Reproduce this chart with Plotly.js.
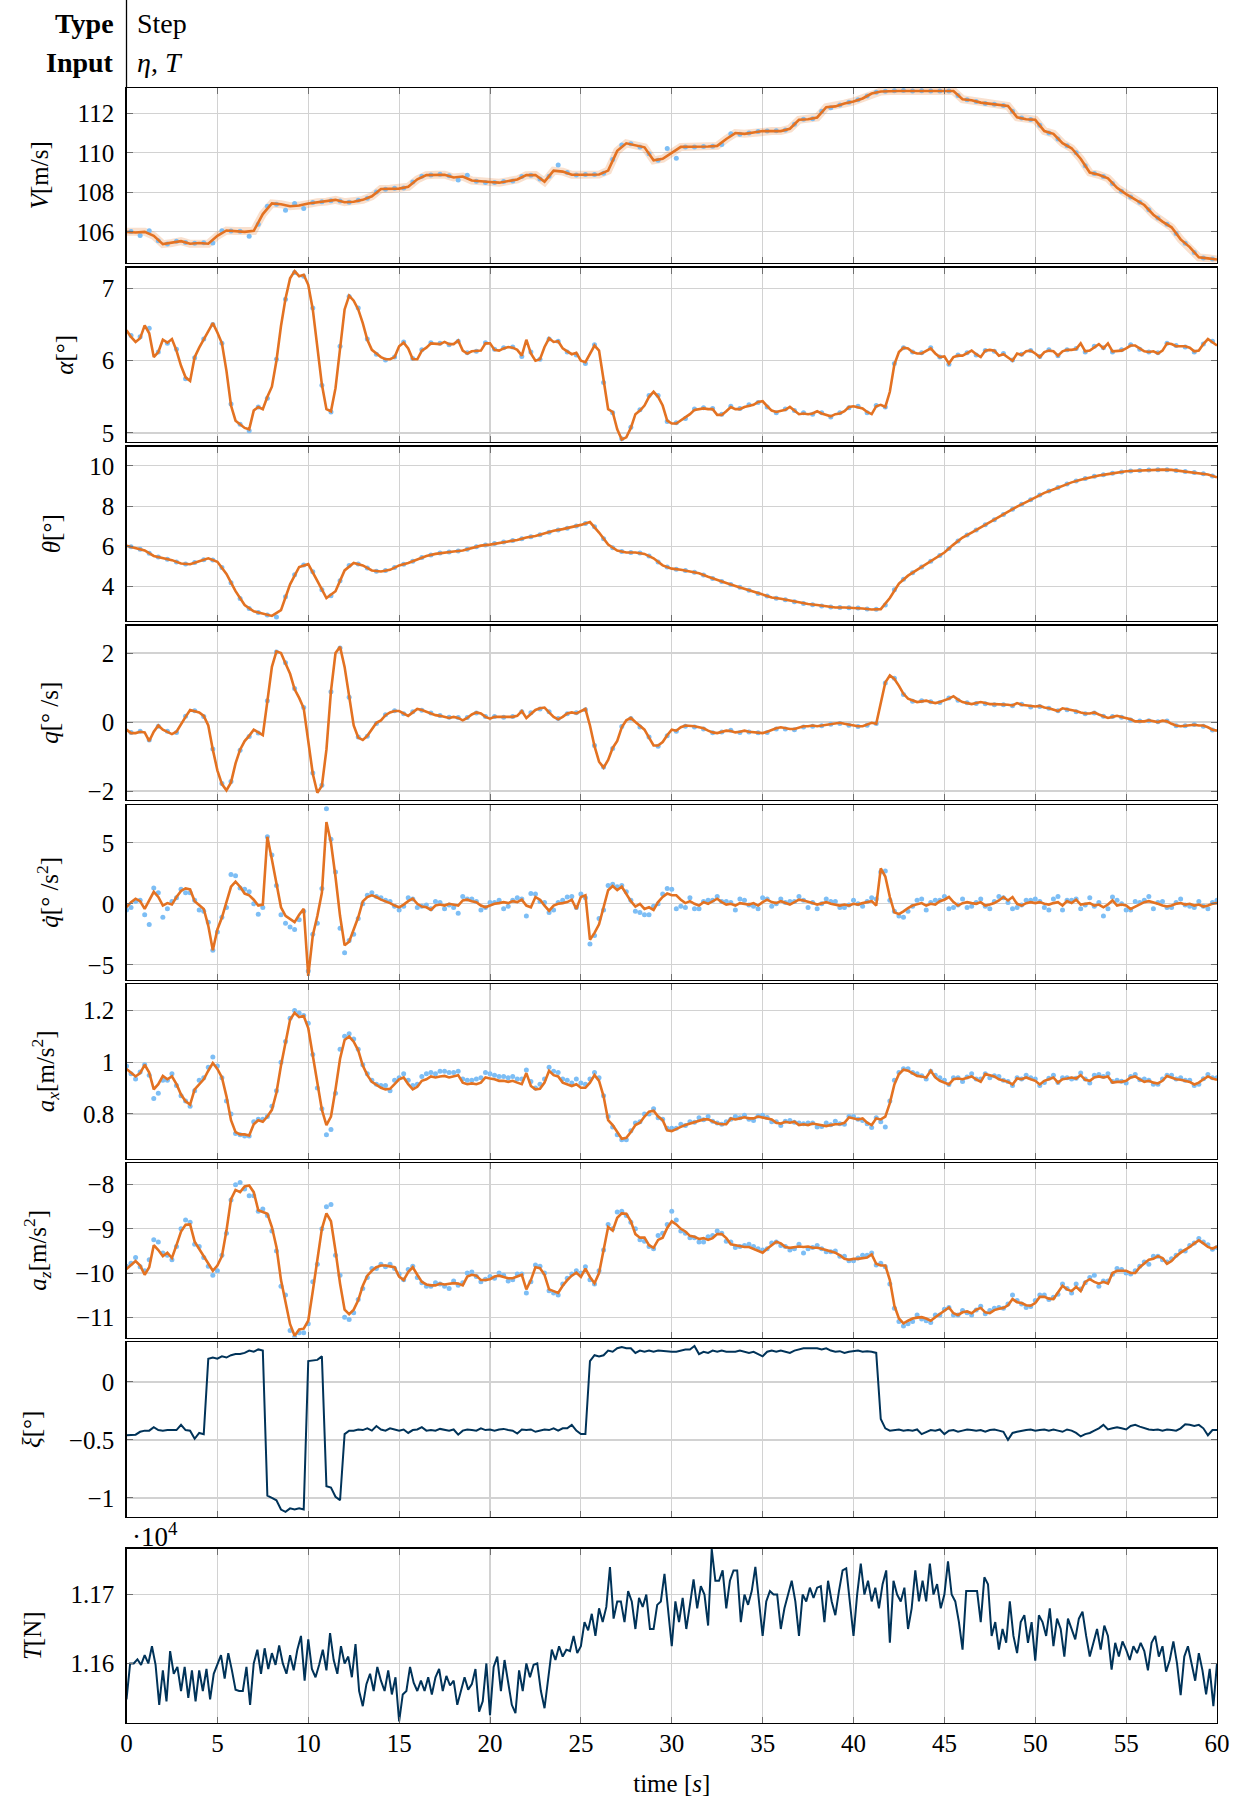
<!DOCTYPE html>
<html>
<head>
<meta charset="utf-8">
<script src="https://cdn.plot.ly/plotly-3.0.1.min.js"></script>
<style>body{margin:0;background:#fff}#chart{width:1242px;height:1800px}</style>
</head>
<body>
<div id="chart"></div>
<script>
// ---------------- data (time span 0..60 s) ----------------
const timeTicks = [0,5,10,15,20,25,30,35,40,45,50,55,60];

const V_ticks = [106,108,110,112];
const V_est = [106.0,105.97,106.0,105.8,105.38,105.44,105.53,105.4,105.44,105.4,105.8,106.07,106.05,106.0,106.05,106.9,107.44,107.4,107.3,107.33,107.44,
107.5,107.53,107.62,107.5,107.52,107.62,107.8,108.17,108.18,108.19,108.28,108.66,108.87,108.89,108.89,108.75,108.8,108.6,108.55,108.52,
108.49,108.57,108.65,108.87,108.88,108.54,109.1,109.05,108.89,108.89,108.9,108.9,109.1,110.1,110.48,110.37,110.28,109.62,109.7,110.0,
110.3,110.31,110.31,110.32,110.35,110.7,111.0,110.96,111.03,111.1,111.1,111.1,111.22,111.67,111.7,111.79,112.31,112.35,112.49,112.6,
112.75,113.0,113.1,113.13,113.13,113.13,113.14,113.14,113.13,113.13,113.13,112.71,112.66,112.54,112.49,112.43,112.37,111.8,111.7,111.67,
111.1,110.96,110.49,110.23,109.7,109.0,108.89,108.71,108.23,107.91,107.62,107.36,106.87,106.52,106.23,105.62,105.23,104.71,104.66,104.6];
const V_meas = [106.02,105.82,106.06,105.55,105.38,105.52,105.46,105.43,105.45,105.44,
106.06,106.05,106.03,105.78,106.38,107.30,107.40,107.10,107.43,107.18,
107.48,107.53,107.58,107.56,107.50,107.60,107.70,108.02,108.16,108.21,
108.22,108.52,108.82,108.88,108.91,108.84,108.62,108.86,108.56,108.50,
108.50,108.55,108.58,108.80,108.87,108.68,108.82,109.38,109.0,108.88,
108.9,108.9,108.96,109.66,110.40,110.46,110.30,109.95,109.62,110.22,
109.72,110.30,110.30,110.32,110.33,110.42,110.96,110.94,111.0,111.08,
111.1,111.12,111.16,111.45,111.70,111.72,112.10,112.28,112.42,112.56,
112.68,112.88,113.06,113.12,113.14,113.15,113.13,113.14,113.13,113.13,
113.13,112.90,112.68,112.60,112.50,112.46,112.40,112.10,111.76,111.68,
111.40,111.0,110.70,110.36,110.0,109.35,108.95,108.8,108.45,108.06,
107.76,107.5,107.12,106.70,106.38,105.92,105.42,104.96,104.68,104.63];

const alpha_ticks = [5,6,7];
const alpha_est = [6.42,
6.33,6.26,6.31,6.49, 6.38,6.05,6.12,6.29, 6.25,6.30,6.14,5.93, 5.77,5.72,6.05,6.18, 6.29,6.42,6.52,6.39,
6.24,5.86,5.38,5.17, 5.12,5.07,5.05,5.31, 5.36,5.33,5.50,5.64, 6.00,6.48,6.86,7.14, 7.24,7.17,7.19,7.05,
6.71,6.19,5.67,5.33, 5.30,5.62,6.19,6.71, 6.90,6.83,6.71,6.52, 6.29,6.15,6.10,6.05, 6.02,6.02,6.05,6.20,
6.25,6.17,6.02,6.02, 6.14,6.18,6.24,6.23, 6.23,6.26,6.23,6.23, 6.28,6.14,6.10,6.13, 6.13,6.14,6.24,6.24,
6.15,6.14,6.17,6.19, 6.18,6.15,6.07,6.29, 6.10,6.00,6.02,6.19, 6.31,6.26,6.27,6.17, 6.13,6.09,6.11,6.00,
5.98,6.10,6.21,6.14, 5.71,5.33,5.29,5.05, 4.91,4.94,5.07,5.26, 5.31,5.38,5.50,5.57, 5.50,5.38,5.17,5.13,
5.13,5.17,5.21,5.26, 5.32,5.33,5.34,5.33, 5.33,5.25,5.25,5.30, 5.36,5.33,5.33,5.36, 5.38,5.39,5.43,5.44,
5.37,5.31,5.29,5.31, 5.32,5.36,5.31,5.26, 5.27,5.26,5.27,5.30, 5.27,5.25,5.23,5.26, 5.27,5.30,5.36,5.37,
5.36,5.34,5.29,5.26, 5.37,5.39,5.36,5.57, 5.95,6.12,6.18,6.17, 6.12,6.10,6.10,6.13, 6.17,6.10,6.05,6.06,
5.96,6.05,6.07,6.07, 6.10,6.14,6.09,6.05, 6.14,6.15,6.14,6.07, 6.09,6.05,6.00,6.10, 6.08,6.13,6.14,6.10,
6.05,6.12,6.14,6.13, 6.07,6.13,6.15,6.15, 6.16,6.24,6.13,6.14, 6.19,6.23,6.17,6.24, 6.13,6.13,6.14,6.17,
6.21,6.21,6.17,6.13, 6.12,6.13,6.10,6.14, 6.24,6.23,6.20,6.20, 6.20,6.18,6.13,6.14, 6.23,6.30,6.26,6.21];
const alpha_meas = [6.35,6.33,6.45,6.12,6.24,6.16,5.75,6.04,6.30,6.50,
6.24,5.40,5.12,5.03,5.36,5.48,6.02,6.85,7.22,7.17,
6.73,5.66,5.29,6.20,6.89,6.73,6.30,6.09,6.01,6.05,
6.26,6.03,6.15,6.25,6.24,6.22,6.27,6.11,6.13,6.25,
6.16,6.18,6.19,6.06,6.12,6.02,6.30,6.27,6.12,6.08,
5.96,6.22,5.70,5.28,4.92,5.08,5.32,5.52,5.52,5.16,
5.14,5.20,5.33,5.35,5.34,5.26,5.37,5.34,5.39,5.42,
5.36,5.28,5.33,5.31,5.28,5.26,5.28,5.22,5.28,5.35,
5.37,5.28,5.38,5.36,5.96,6.18,6.12,6.11,6.18,6.05,
5.95,6.08,6.11,6.08,6.14,6.13,6.10,6.01,6.09,6.14,
6.06,6.15,6.07,6.15,6.17,6.12,6.20,6.18,6.12,6.15,
6.22,6.16,6.12,6.11,6.24,6.21,6.19,6.12,6.23,6.27];

const theta_ticks = [4,6,8,10];
const theta_est = [6.04,5.92,5.8,5.53,5.41,5.32,5.15,5.12,5.27,5.41,5.24,4.64,3.78,3.09,2.78,2.67,2.55,2.84,4.12,4.98,5.12,
4.29,3.44,3.78,4.81,5.18,5.06,4.81,4.76,4.84,5.06,5.18,5.36,5.53,5.63,5.7,5.75,5.8,5.92,6.04,6.09,
6.18,6.25,6.32,6.44,6.52,6.64,6.78,6.86,6.95,7.07,7.21,6.69,6.09,5.8,5.7,5.7,5.63,5.41,5.06,4.9,
4.84,4.77,4.67,4.5,4.33,4.19,4.04,3.9,3.74,3.61,3.47,3.4,3.32,3.21,3.14,3.09,3.02,2.97,2.97,2.96,
2.92,2.87,2.89,3.44,4.16,4.55,4.84,5.12,5.41,5.7,6.09,6.44,6.69,6.95,7.21,7.46,7.72,7.98,8.2,8.44,
8.66,8.83,9.01,9.18,9.31,9.43,9.52,9.59,9.66,9.73,9.76,9.78,9.79,9.81,9.8,9.74,9.69,9.64,9.57,9.43];
const theta_meas = [5.98,5.86,5.66,5.47,5.36,5.23,5.13,5.2,5.34,5.33,
4.95,4.2,3.42,2.92,2.72,2.6,2.5,3.5,4.6,5.08,
4.75,3.85,3.55,4.3,5.05,5.13,4.93,4.77,4.8,4.95,
5.12,5.27,5.45,5.58,5.67,5.73,5.78,5.86,5.98,6.07,
6.14,6.22,6.29,6.38,6.48,6.58,6.71,6.82,6.9,7.01,
7.14,6.98,6.38,5.94,5.75,5.7,5.67,5.52,5.23,4.98,
4.87,4.8,4.72,4.58,4.41,4.26,4.11,3.97,3.82,3.67,
3.54,3.43,3.36,3.26,3.17,3.11,3.05,2.99,2.97,2.96,
2.94,2.9,2.88,3.1,3.85,4.37,4.7,4.98,5.27,5.55,
5.9,6.27,6.57,6.82,7.08,7.33,7.59,7.85,8.09,8.32,
8.55,8.75,8.92,9.1,9.25,9.37,9.48,9.56,9.63,9.7,
9.75,9.77,9.79,9.8,9.81,9.77,9.72,9.67,9.61,9.5];

const q_ticks = [-2,0,2];
const q_est = [-0.22,
-0.32,-0.32,-0.28,-0.30, -0.55,-0.28,-0.10,-0.22, -0.28,-0.35,-0.28,-0.05, 0.15,0.35,0.32,0.28, 0.18,-0.10,-0.80,-1.40,
-1.80,-1.98,-1.75,-1.20, -0.80,-0.55,-0.40,-0.22, -0.30,-0.38,0.60,1.60, 2.05,2.00,1.70,1.40, 0.95,0.70,0.40,-0.60,
-1.50,-2.05,-1.85,-0.80, 0.90,2.00,2.18,1.60, 0.70,-0.10,-0.45,-0.52, -0.40,-0.20,-0.02,0.05, 0.20,0.28,0.32,0.32,
0.25,0.18,0.28,0.38, 0.35,0.30,0.25,0.20, 0.18,0.15,0.12,0.15, 0.12,0.05,0.12,0.22, 0.28,0.25,0.15,0.10,
0.15,0.15,0.15,0.17, 0.15,0.18,0.32,0.12, 0.25,0.35,0.40,0.42, 0.28,0.15,0.08,0.15, 0.25,0.28,0.25,0.32,
0.38,-0.10,-0.70,-1.15, -1.32,-1.10,-0.75,-0.55, -0.15,0.05,0.12,0.00, -0.12,-0.22,-0.45,-0.68, -0.68,-0.58,-0.38,-0.22,
-0.25,-0.15,-0.10,-0.10, -0.12,-0.15,-0.18,-0.25, -0.30,-0.32,-0.28,-0.25, -0.26,-0.30,-0.28,-0.25, -0.28,-0.30,-0.30,-0.32,
-0.28,-0.22,-0.18,-0.15, -0.18,-0.20,-0.20,-0.15, -0.12,-0.12,-0.10,-0.12, -0.10,-0.08,-0.05,-0.02, -0.02,-0.05,-0.08,-0.10,
-0.12,-0.12,-0.08,-0.02, -0.05,0.60,1.15,1.35, 1.25,1.05,0.82,0.68, 0.62,0.58,0.60,0.62, 0.58,0.55,0.58,0.62,
0.68,0.75,0.65,0.58, 0.55,0.52,0.55,0.58, 0.55,0.52,0.52,0.52, 0.52,0.50,0.48,0.55, 0.50,0.48,0.45,0.45,
0.47,0.42,0.40,0.35, 0.32,0.40,0.38,0.35, 0.32,0.28,0.25,0.25, 0.28,0.22,0.18,0.12, 0.15,0.18,0.15,0.12,
0.08,0.02,0.02,0.02, 0.05,0.02,0.00,0.04, 0.02,-0.05,-0.10,-0.12, -0.10,-0.08,-0.08,-0.10, -0.10,-0.15,-0.22,-0.25];
const q_meas = [-0.30,-0.27,-0.52,-0.12,-0.27,-0.30,0.17,0.33,0.16,-0.78,
-1.78,-1.72,-0.82,-0.42,-0.32,0.62,2.03,1.72,0.97,0.42,
-1.48,-1.83,0.88,2.15,0.72,-0.43,-0.41,-0.04,0.21,0.33,
0.24,0.30,0.34,0.26,0.19,0.14,0.13,0.13,0.26,0.16,
0.16,0.14,0.16,0.30,0.27,0.38,0.30,0.10,0.24,0.27,
0.36,-0.68,-1.30,-0.77,-0.13,0.10,-0.14,-0.43,-0.70,-0.40,
-0.27,-0.12,-0.14,-0.20,-0.31,-0.29,-0.24,-0.30,-0.29,-0.31,
-0.30,-0.20,-0.20,-0.22,-0.14,-0.12,-0.11,-0.06,-0.04,-0.09,
-0.13,-0.09,-0.04,1.13,1.27,0.80,0.60,0.62,0.59,0.57,
0.70,0.63,0.56,0.54,0.53,0.50,0.50,0.47,0.52,0.44,
0.45,0.40,0.33,0.36,0.30,0.24,0.26,0.17,0.16,0.14,
0.06,0.03,0.04,0.01,0.03,-0.11,-0.11,-0.07,-0.12,-0.23];

const qdot_ticks = [-5,0,5];
const qdot_est = [-0.28,
0.14,0.42,0.22,-0.42, 0.28,0.98,0.56,-0.14, 0.06,-0.06,0.56,1.06, 1.26,1.18,0.22,-0.14, -0.42,-1.80,-3.80,-2.10,
-1.12,0.14,1.40,1.82, 1.40,0.84,0.70,0.34, -0.14,-0.06,5.50,3.64, 1.68,-0.28,-0.98,-1.26, -1.50,-0.90,-0.40,-5.90,
-2.60,-1.00,0.90,6.70, 5.00,2.20,-1.00,-3.40, -3.10,-2.10,-1.10,0.20, 0.56,0.70,0.56,0.34, 0.22,0.06,-0.14,-0.28,
-0.06,0.22,0.42,0.00, -0.22,-0.28,-0.50,-0.14, -0.06,-0.14,0.00,-0.06, -0.14,0.28,0.34,0.22, 0.14,-0.14,-0.28,-0.14,
0.00,0.06,0.14,0.06, 0.22,0.14,0.34,-0.14, -0.28,0.56,0.34,-0.14, -0.56,-0.14,0.00,0.06, 0.14,0.34,-0.42,0.56,
0.70,-2.94,-2.38,-1.68, -0.28,1.12,1.46,1.12, 1.40,0.84,0.22,-0.22, 0.00,-0.42,-0.28,-0.50, 0.14,0.56,0.84,0.70,
0.70,0.34,0.06,0.22, 0.00,-0.14,0.14,0.00, 0.22,0.42,0.14,-0.06, 0.00,-0.14,0.06,0.00, -0.06,0.06,-0.14,0.14,
0.34,0.14,0.06,0.22, 0.06,-0.06,0.14,0.34, 0.28,0.14,0.06,-0.06, 0.06,0.14,0.00,-0.06, -0.14,-0.06,-0.14,0.00,
-0.06,0.06,0.14,0.22, -0.14,2.90,2.24,0.56, -0.70,-0.84,-0.62,-0.34, -0.14,-0.06,0.06,-0.14, 0.00,-0.06,0.22,0.34,
0.56,0.14,-0.14,0.06, 0.14,0.06,0.00,0.14, -0.14,-0.06,0.06,0.28, 0.56,0.28,0.56,0.00, -0.14,0.06,0.14,0.06,
0.14,0.00,-0.06,0.06, 0.14,-0.14,0.22,0.06, 0.34,-0.06,0.00,0.06, -0.14,-0.06,-0.28,-0.06, 0.28,-0.14,-0.06,-0.14,
-0.42,-0.22,0.00,0.14, 0.22,0.14,0.00,-0.14, -0.22,-0.14,0.00,0.06, -0.06,0.00,-0.14,-0.06, -0.22,-0.14,0.00,0.06];
// measured samples at t = 0.25, 0.75, ... and at t = 0, 0.5, ...
const qdot_meas = [-0.3,0.3,-1.7,0.9,-0.4,0.5,0.9,0.3,-0.6,-3.8,
-1.1,2.4,1.3,1.0,-0.85,5.5,1.5,-1.6,-2.1,-0.6,
-2.5,1.26,5.3,-2.0,-3.0,-1.2,0.7,0.6,0.3,-0.2,
-0.2,0.4,-0.2,-0.4,0.1,-0.1,-0.78,0.4,0.2,-0.3,
0.1,-0.4,0.3,0.4,0.84,0.2,-0.7,0.1,0.56,-0.3,
0.5,-2.6,-0.5,1.6,1.5,0.3,-0.7,-0.9,0.0,1.26,
-0.4,-0.3,-0.4,0.2,0.3,0.2,0.1,0.4,-0.1,-0.4,
0.4,0.0,0.1,0.2,0.3,0.1,0.0,0.2,-0.3,-0.1,
0.0,0.2,0.4,2.7,-0.6,-1.1,-0.2,0.4,0.1,0.3,
-0.4,-0.1,-0.3,0.1,-0.2,0.2,0.5,-0.4,-0.1,0.3,
0.2,-0.5,0.6,0.3,0.4,-0.1,-0.2,-1.0,0.56,0.0,
-0.5,0.1,0.6,0.1,-0.3,0.1,-0.1,-0.3,-0.2,0.1];
const qdot_meas2 = [-0.5,0.2,-0.9,1.3,-1.1,0.2,1.2,0.9,-0.5,-1.5,
-2.3,-0.3,2.3,1.2,0.0,-0.3,4.0,-0.9,-1.9,-1.3,
-5.5,-1.6,7.8,2.6,-4.0,-2.5,0.0,0.9,0.5,0.2,
-0.5,0.5,-0.3,-0.1,0.2,-0.4,-0.3,0.6,0.4,-0.5,
0.1,0.3,-0.2,0.5,-1.0,0.8,0.1,-0.5,0.3,0.6,
0.8,-3.3,-1.2,1.5,1.4,1.0,-0.6,-0.9,-0.2,0.8,
1.2,-0.2,0.5,-0.4,0.3,0.6,0.2,-0.5,0.3,-0.2,
0.5,-0.2,0.4,0.2,0.6,-0.3,-0.4,0.4,0.2,-0.3,
0.3,-0.2,0.5,2.6,0.3,-1.0,-0.6,0.3,-0.5,0.3,
0.6,-0.3,0.4,-0.2,0.4,-0.4,0.6,0.1,-0.3,0.3,
0.4,-0.3,0.4,-0.5,0.3,-0.4,0.5,0.1,-0.4,0.3,
-0.5,0.2,0.3,-0.4,0.2,-0.3,0.4,-0.2,0.2,-0.4,
0.3];

const ax_ticks = [0.8,1,1.2];
const ax_est = [0.974,
0.960,0.945,0.958,0.990, 0.960,0.895,0.915,0.947, 0.934,0.945,0.915,0.875, 0.849,0.836,0.895,0.915, 0.934,0.967,0.997,0.974,
0.941,0.868,0.776,0.730, 0.721,0.721,0.717,0.760, 0.776,0.770,0.790,0.816, 0.882,0.987,1.079,1.164, 1.191,1.174,1.178,1.132,
1.026,0.921,0.816,0.757, 0.790,0.895,1.013,1.086, 1.099,1.079,1.046,0.987, 0.950,0.924,0.911,0.901, 0.895,0.897,0.915,0.934,
0.941,0.915,0.895,0.905, 0.928,0.934,0.945,0.941, 0.945,0.947,0.941,0.945, 0.950,0.921,0.915,0.918, 0.915,0.921,0.941,0.937,
0.934,0.928,0.928,0.924, 0.928,0.921,0.915,0.958, 0.908,0.895,0.897,0.921, 0.967,0.950,0.945,0.921, 0.915,0.908,0.915,0.901,
0.901,0.921,0.950,0.928, 0.868,0.776,0.757,0.730, 0.704,0.708,0.730,0.757, 0.766,0.790,0.809,0.813, 0.790,0.776,0.737,0.734,
0.743,0.750,0.757,0.763, 0.770,0.776,0.779,0.779, 0.770,0.763,0.760,0.760, 0.783,0.779,0.783,0.787, 0.783,0.783,0.790,0.787,
0.783,0.779,0.766,0.763, 0.770,0.766,0.770,0.757, 0.760,0.757,0.763,0.760, 0.757,0.753,0.757,0.760, 0.760,0.766,0.787,0.783,
0.779,0.783,0.766,0.757, 0.783,0.779,0.790,0.842, 0.914,0.954,0.971,0.967, 0.958,0.947,0.945,0.941, 0.967,0.941,0.928,0.921,
0.914,0.934,0.937,0.934, 0.941,0.945,0.934,0.924, 0.954,0.950,0.945,0.934, 0.928,0.924,0.914,0.937, 0.934,0.941,0.934,0.928,
0.914,0.928,0.934,0.941, 0.921,0.934,0.937,0.941, 0.937,0.950,0.932,0.928, 0.941,0.945,0.941,0.945, 0.921,0.924,0.924,0.928,
0.941,0.945,0.934,0.924, 0.928,0.921,0.918,0.928, 0.947,0.941,0.934,0.932, 0.928,0.924,0.914,0.921, 0.934,0.945,0.937,0.932];
const ax_meas = [0.955,0.962,0.95,0.88,0.93,0.91,0.85,0.89,0.94,1.02,
0.94,0.80,0.72,0.715,0.78,0.79,0.89,1.08,1.20,1.18,
1.03,0.82,0.74,1.05,1.11,1.05,0.955,0.915,0.91,0.93,
0.955,0.91,0.945,0.96,0.965,0.96,0.965,0.93,0.935,0.96,
0.95,0.945,0.945,0.935,0.925,0.915,0.98,0.96,0.93,0.935,
0.915,0.96,0.87,0.75,0.70,0.735,0.77,0.80,0.785,0.745,
0.745,0.755,0.768,0.778,0.772,0.76,0.78,0.785,0.78,0.792,
0.786,0.77,0.772,0.768,0.762,0.765,0.752,0.758,0.762,0.79,
0.78,0.762,0.785,0.75,0.93,0.975,0.96,0.948,0.965,0.94,
0.914,0.94,0.943,0.935,0.955,0.948,0.93,0.91,0.935,0.94,
0.91,0.938,0.922,0.94,0.938,0.935,0.95,0.945,0.925,0.926,
0.945,0.932,0.93,0.915,0.95,0.935,0.93,0.91,0.936,0.94];
const ax_meas2 = [0.985,0.935,0.99,0.86,0.93,0.955,0.87,0.83,0.93,0.98,
0.985,0.85,0.725,0.715,0.77,0.78,0.83,1.0,1.17,1.19,
1.15,0.90,0.72,0.88,1.10,1.09,0.99,0.93,0.91,0.89,
0.94,0.93,0.915,0.955,0.955,0.965,0.96,0.935,0.93,0.94,
0.955,0.945,0.94,0.935,0.97,0.90,0.935,0.965,0.935,0.92,
0.92,0.935,0.94,0.79,0.72,0.70,0.765,0.80,0.82,0.78,
0.745,0.76,0.77,0.785,0.79,0.765,0.77,0.79,0.795,0.775,
0.795,0.77,0.755,0.775,0.765,0.765,0.75,0.765,0.772,0.76,
0.79,0.775,0.748,0.77,0.85,0.96,0.975,0.955,0.935,0.95,
0.93,0.94,0.925,0.955,0.935,0.94,0.945,0.925,0.94,0.95,
0.935,0.922,0.95,0.94,0.935,0.958,0.92,0.952,0.955,0.93,
0.92,0.952,0.935,0.915,0.935,0.95,0.94,0.93,0.915,0.952,
0.94];

const az_ticks = [-11,-10,-9,-8];
const az_est = [-9.91,
-9.81,-9.73,-9.83,-10.04, -9.87,-9.37,-9.48,-9.62, -9.54,-9.66,-9.37,-9.06, -8.91,-8.90,-9.29,-9.45, -9.60,-9.79,-9.95,-9.83,
-9.62,-9.04,-8.33,-8.12, -8.17,-8.04,-8.02,-8.17, -8.58,-8.62,-8.66,-8.96, -9.41,-10.16,-10.66,-11.16, -11.42,-11.28,-11.26,-11.08,
-10.41,-9.66,-9.00,-8.65, -8.83,-9.50,-10.24,-10.83, -10.93,-10.83,-10.62,-10.29, -10.06,-9.95,-9.87,-9.83, -9.83,-9.85,-9.87,-10.08,
-10.16,-9.98,-9.87,-10.04, -10.20,-10.26,-10.28,-10.28, -10.24,-10.26,-10.24,-10.23, -10.24,-10.28,-10.08,-10.04, -10.06,-10.16,-10.16,-10.14,
-10.08,-10.06,-10.09,-10.12, -10.12,-10.08,-10.04,-10.37, -10.16,-9.87,-9.89,-10.04, -10.37,-10.41,-10.45,-10.29, -10.16,-10.06,-9.99,-10.09,
-9.90,-10.09,-10.23,-10.00, -9.50,-8.96,-9.04,-8.75, -8.65,-8.66,-8.83,-9.12, -9.20,-9.20,-9.37,-9.43, -9.25,-9.20,-8.98,-8.83,
-8.90,-9.00,-9.06,-9.16, -9.18,-9.23,-9.21,-9.25, -9.21,-9.12,-9.12,-9.21, -9.35,-9.37,-9.40,-9.41, -9.41,-9.45,-9.50,-9.54,
-9.45,-9.37,-9.29,-9.33, -9.41,-9.43,-9.41,-9.40, -9.41,-9.40,-9.43,-9.43, -9.45,-9.48,-9.50,-9.54, -9.60,-9.68,-9.70,-9.68,
-9.68,-9.66,-9.65,-9.58, -9.79,-9.83,-9.83,-10.16, -10.74,-11.03,-11.14,-11.08, -11.03,-11.01,-11.00,-11.03, -11.08,-11.00,-10.93,-10.87,
-10.78,-10.91,-10.95,-10.89, -10.87,-10.91,-10.83,-10.79, -10.89,-10.91,-10.84,-10.81, -10.79,-10.73,-10.59,-10.66, -10.68,-10.73,-10.74,-10.68,
-10.54,-10.54,-10.58,-10.59, -10.45,-10.29,-10.37,-10.41, -10.31,-10.41,-10.20,-10.14, -10.20,-10.24,-10.20,-10.24, -10.00,-9.95,-9.95,-9.95,
-10.00,-10.00,-9.87,-9.79, -9.70,-9.68,-9.62,-9.66, -9.79,-9.73,-9.62,-9.54, -9.48,-9.41,-9.33,-9.26, -9.33,-9.41,-9.45,-9.40];
const az_meas = [-9.78,-9.86,-9.70,-9.30,-9.60,-9.40,-8.80,-9.35,-9.65,-10.05,
-9.60,-8.35,-7.95,-8.25,-8.60,-8.70,-9.50,-10.50,-11.45,-11.35,
-10.20,-9.00,-8.45,-10.05,-11.05,-10.60,-10.10,-9.90,-9.86,-9.90,
-10.15,-9.85,-10.22,-10.30,-10.25,-10.35,-10.28,-10.00,-10.08,-10.14,
-10.12,-10.05,-10.15,-10.02,-10.20,-9.85,-10.40,-10.50,-10.12,-9.95,
-9.86,-10.25,-9.48,-9.00,-8.60,-8.85,-9.25,-9.40,-9.15,-8.90,
-8.80,-9.10,-9.20,-9.30,-9.15,-9.10,-9.30,-9.40,-9.35,-9.45,
-9.45,-9.30,-9.40,-9.45,-9.55,-9.42,-9.45,-9.52,-9.62,-9.72,
-9.66,-9.60,-9.82,-9.86,-10.80,-11.20,-11.10,-11.04,-11.12,-10.95,
-10.78,-10.95,-10.90,-10.84,-10.92,-10.80,-10.80,-10.50,-10.70,-10.76,
-10.50,-10.60,-10.48,-10.35,-10.25,-10.22,-10.05,-10.18,-10.03,-9.92,
-10.02,-9.85,-9.80,-9.62,-9.75,-9.60,-9.50,-9.32,-9.30,-9.46];
const az_meas2 = [-9.85,-9.65,-9.95,-9.25,-9.55,-9.70,-9.00,-8.85,-9.40,-9.85,
-9.95,-9.10,-8.00,-8.10,-8.25,-8.55,-9.05,-10.30,-11.30,-11.35,
-11.15,-9.80,-8.50,-9.60,-11.00,-10.90,-10.35,-9.90,-9.80,-9.80,
-10.02,-9.92,-10.10,-10.30,-10.22,-10.30,-10.18,-10.22,-9.98,-10.20,
-10.08,-10.00,-10.18,-10.02,-10.45,-9.82,-10.00,-10.45,-10.25,-10.02,
-10.00,-10.15,-9.95,-8.90,-8.62,-8.70,-9.00,-9.28,-9.45,-9.10,
-8.60,-9.05,-9.20,-9.30,-9.18,-9.05,-9.28,-9.42,-9.38,-9.40,
-9.48,-9.32,-9.38,-9.48,-9.35,-9.45,-9.38,-9.52,-9.50,-9.62,
-9.72,-9.60,-9.55,-9.78,-10.25,-11.10,-11.15,-10.95,-11.08,-10.95,
-10.82,-10.95,-10.85,-10.95,-10.75,-10.85,-10.78,-10.70,-10.62,-10.78,
-10.62,-10.50,-10.55,-10.25,-10.45,-10.36,-10.10,-10.30,-10.18,-9.90,
-10.00,-9.95,-9.75,-9.62,-9.70,-9.68,-9.50,-9.38,-9.22,-9.36,
-9.42];

const xi_ticks = [-1,-0.5,0];
const xi = [-0.46,
-0.46,-0.455,-0.43,-0.42, -0.42,-0.39,-0.415,-0.42, -0.415,-0.415,-0.415,-0.37, -0.415,-0.42,-0.49,-0.44, -0.45,0.20,0.21,0.20,
0.22,0.21,0.23,0.24, 0.24,0.25,0.27,0.26, 0.28,0.27,-0.98,-1.00, -1.02,-1.10,-1.12,-1.09, -1.10,-1.09,-1.10,0.18,
0.185,0.19,0.22,-0.90, -0.91,-0.99,-1.02,-0.45, -0.42,-0.42,-0.41,-0.415, -0.40,-0.42,-0.38,-0.41, -0.42,-0.40,-0.41,-0.42,
-0.41,-0.44,-0.415,-0.41, -0.39,-0.42,-0.415,-0.42, -0.405,-0.415,-0.42,-0.41, -0.455,-0.42,-0.41,-0.415, -0.42,-0.40,-0.415,-0.41,
-0.42,-0.41,-0.405,-0.415, -0.42,-0.445,-0.41,-0.415, -0.41,-0.43,-0.42,-0.41, -0.415,-0.40,-0.42,-0.40, -0.40,-0.37,-0.42,-0.45,
-0.45,0.18,0.23,0.22, 0.23,0.27,0.26,0.29, 0.30,0.29,0.29,0.25, 0.27,0.26,0.27,0.26, 0.27,0.265,0.26,0.26,
0.26,0.27,0.28,0.28, 0.31,0.24,0.26,0.25, 0.27,0.26,0.27,0.26, 0.26,0.26,0.27,0.26, 0.25,0.26,0.24,0.22,
0.26,0.27,0.26,0.27, 0.26,0.25,0.27,0.28, 0.29,0.29,0.29,0.29, 0.28,0.29,0.27,0.26, 0.265,0.25,0.26,0.265,
0.27,0.26,0.265,0.26, 0.25,-0.32,-0.40,-0.42, -0.415,-0.41,-0.42,-0.415, -0.42,-0.41,-0.45,-0.43, -0.415,-0.42,-0.41,-0.45,
-0.42,-0.415,-0.43,-0.42, -0.41,-0.415,-0.42,-0.415, -0.43,-0.415,-0.41,-0.42, -0.43,-0.50,-0.44,-0.43, -0.42,-0.415,-0.41,-0.42,
-0.415,-0.41,-0.42,-0.41, -0.42,-0.43,-0.41,-0.42, -0.44,-0.47,-0.45,-0.44, -0.42,-0.40,-0.37,-0.41, -0.40,-0.39,-0.40,-0.41,
-0.38,-0.37,-0.385,-0.40, -0.41,-0.415,-0.41,-0.42, -0.41,-0.415,-0.42,-0.40, -0.365,-0.37,-0.38,-0.37, -0.40,-0.46,-0.415,-0.415];

const T_ticks = [1.16,1.17];
const T_N = [11548,11600,11600,11606,11598, 11612,11600,11625,11598,11540, 11590,11545,11618,11585,11595, 11560,11595,11550,11590,11545,
11590,11560,11592,11548,11585, 11600,11612,11578,11615,11590, 11562,11560,11560,11595,11540, 11600,11620,11585,11622,11592,
11615,11598,11626,11600,11585, 11612,11590,11620,11640,11575, 11635,11592,11580,11598,11620, 11590,11644,11605,11585,11625,
11600,11610,11580,11628,11560, 11538,11570,11585,11560,11595, 11575,11560,11590,11555,11580, 11516,11555,11560,11595,11572,
11560,11575,11560,11580,11555, 11580,11592,11560,11582,11568, 11575,11540,11560,11580,11562, 11570,11592,11530,11545,11600,
11525,11595,11610,11560,11605, 11570,11540,11528,11590,11560, 11600,11580,11598,11600,11560, 11535,11580,11620,11605,11625,
11610,11620,11618,11640,11615, 11625,11660,11648,11672,11640, 11680,11660,11682,11740,11665, 11690,11690,11660,11705,11690,
11650,11695,11682,11700,11650, 11650,11685,11690,11730,11680, 11625,11690,11660,11695,11650, 11685,11722,11680,11712,11700,
11655,11766,11720,11720,11735, 11680,11720,11735,11735,11660, 11700,11685,11705,11740,11690, 11640,11690,11705,11700,11700,
11650,11680,11700,11720,11690, 11640,11700,11690,11710,11695, 11710,11712,11660,11720,11690, 11670,11705,11735,11738,11690,
11640,11700,11745,11700,11720, 11690,11710,11680,11715,11735, 11630,11720,11700,11690,11710, 11650,11680,11735,11690,11720,
11690,11745,11700,11715,11680, 11700,11748,11700,11690,11660, 11620,11705,11705,11706,11705, 11660,11725,11715,11640,11660,
11620,11650,11630,11690,11640, 11615,11660,11670,11630,11660, 11604,11670,11660,11640,11680, 11625,11665,11650,11610,11665,
11650,11635,11665,11675,11640, 11610,11630,11650,11620,11655, 11640,11591,11630,11610,11632, 11620,11605,11625,11615,11630,
11618,11590,11630,11640,11610, 11625,11588,11605,11632,11600, 11554,11610,11625,11600,11575, 11615,11590,11555,11592,11538,
11600];

// ---------------- styling / layout ----------------
const W = 1242, H = 1800;
const XL = 126.5, XR = 1217;
const FONT = '"Liberation Serif", "Times New Roman", serif';
const FS = 25;
const ORANGE = 'rgb(227,114,34)';
const ORANGE_BAND = 'rgba(227,114,34,0.22)';
const LIGHTBLUE = 'rgb(125,190,245)';
const NAVY = 'rgb(0,51,89)';

const panels = [
  {est:V_est, meas:[V_meas], band:true, ticks:V_ticks, range:[104.45,113.28], px:[88,262.5], title:'<i>V</i>[m/s]'},
  {est:alpha_est, meas:[alpha_meas], ticks:alpha_ticks, range:[4.875,7.29], px:[267.5,442], title:'<i>α</i>[°]'},
  {est:theta_est, meas:[theta_meas], ticks:theta_ticks, range:[2.3,10.96], px:[446.5,621], title:'<i>θ</i>[°]'},
  {est:q_est, meas:[q_meas], ticks:q_ticks, range:[-2.26,2.8], px:[625.5,800], title:'<i>q</i>[° /s]'},
  {est:qdot_est, meas:[qdot_meas, qdot_meas2], ticks:qdot_ticks, range:[-6.2,8.1], px:[805,979.5], title:'<i>q̇</i>[° /s<sup>2</sup>]'},
  {est:ax_est, meas:[ax_meas, ax_meas2], ticks:ax_ticks, range:[0.628,1.302], px:[984,1158.5], title:'<i>a<sub>x</sub></i>[m/s<sup>2</sup>]'},
  {est:az_est, meas:[az_meas, az_meas2], ticks:az_ticks, range:[-11.46,-7.51], px:[1163,1337.5], title:'<i>a<sub>z</sub></i>[m/s<sup>2</sup>]'},
  {line:xi, ticks:xi_ticks, range:[-1.16,0.344], px:[1342,1516.5], title:'<i>ξ</i>[°]'},
  {line:T_N.map(v => v/1e4), ticks:T_ticks, range:[1.15136,1.17668], px:[1548.5,1723], title:'<i>T</i>[N]'}
];

const traces = [];
const layout = {
  width:W, height:H, margin:{l:0,r:0,t:0,b:0},
  paper_bgcolor:'#ffffff', plot_bgcolor:'#ffffff', showlegend:false, hovermode:false,
  font:{family:FONT, size:FS, color:'#000'},
  annotations:[], shapes:[]
};

panels.forEach((p,i) => {
  const s = i === 0 ? '' : String(i+1);
  const xa = 'x'+s, ya = 'y'+s;
  if (p.est && p.band) {
    traces.push({type:'scatter', mode:'lines', xaxis:xa, yaxis:ya, x0:0, dx:60/(p.est.length-1), y:p.est,
      line:{color:ORANGE_BAND, width:8}});
  }
  (p.meas || []).forEach(m => {
    // arrays of 120 samples sit at the half steps, arrays of 121 samples at the full steps
    const even = (m.length % 2 === 1);
    const dx = even ? 60/(m.length-1) : 60/m.length;
    traces.push({type:'scatter', mode:'markers', xaxis:xa, yaxis:ya, x0: even ? 0 : dx/2, dx:dx, y:m,
      marker:{size:5, color:LIGHTBLUE}});
  });
  if (p.est) {
    traces.push({type:'scatter', mode:'lines', xaxis:xa, yaxis:ya, x0:0, dx:60/(p.est.length-1), y:p.est,
      line:{color:ORANGE, width:2.6}});
  }
  if (p.line) {
    traces.push({type:'scatter', mode:'lines', xaxis:xa, yaxis:ya, x0:0, dx:60/(p.line.length-1), y:p.line,
      line:{color:NAVY, width:2}});
  }
  const last = (i === panels.length-1);
  const xaxis = {
    domain:[XL/W, XR/W], anchor:ya, range:[0,60], tickmode:'array', tickvals:timeTicks,
    showticklabels:last, ticks:'inside', ticklen:6, tickwidth:1, tickcolor:'#707070',
    mirror:'ticks', showline:true, linecolor:'#000', linewidth:1.3,
    showgrid:true, gridcolor:'#d2d2d2', gridwidth:1.2, zeroline:false,
    tickfont:{family:FONT, size:FS}, ticklabelstandoff:-2
  };
  if (last) xaxis.title = {text:'time [<i>s</i>]', font:{family:FONT, size:FS}, standoff:18};
  layout['xaxis'+s] = xaxis;
  layout['yaxis'+s] = {
    domain:[1-p.px[1]/H, 1-p.px[0]/H], anchor:xa, range:p.range, tickmode:'array', tickvals:p.ticks,
    ticks:'inside', ticklen:6, tickwidth:1, tickcolor:'#707070',
    mirror:'ticks', showline:true, linecolor:'#000', linewidth:1.3,
    showgrid:true, gridcolor:'#d2d2d2', gridwidth:1.2, zeroline:false,
    tickfont:{family:FONT, size:FS}, ticklabelstandoff:6,
    title:{text:p.title, font:{family:FONT, size:FS}, standoff:21}
  };
});

// header
layout.shapes.push({type:'line', xref:'paper', yref:'paper', x0:XL/W, x1:XL/W, y0:1-88/H, y1:1, line:{color:'#000', width:1.3}});
const hdr = (txt, x, y, anchor) => ({text:txt, xref:'paper', yref:'paper', x:x/W, y:1-y/H, xanchor:anchor, yanchor:'middle',
  showarrow:false, font:{family:FONT, size:28, color:'#000'}});
layout.annotations.push(hdr('<b>Type</b>', 116, 24, 'right'));
layout.annotations.push(hdr('<b>Input</b>', 116, 62, 'right'));
layout.annotations.push(hdr('Step', 135, 24, 'left'));
layout.annotations.push(hdr('<i>η</i>, <i>T</i>', 135, 62, 'left'));
// exponent label of the thrust axis
layout.annotations.push({text:'·10<sup>4</sup>', xref:'paper', yref:'paper', x:130/W, y:1-1535/H, xanchor:'left', yanchor:'middle',
  showarrow:false, font:{family:FONT, size:27, color:'#000'}});

Plotly.newPlot('chart', traces, layout, {staticPlot:true, displayModeBar:false});
</script>
</body>
</html>
